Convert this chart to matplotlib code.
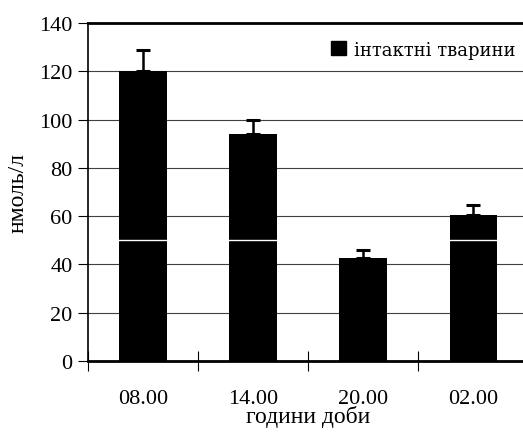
import matplotlib
matplotlib.use("Agg")
import matplotlib.pyplot as plt
import numpy as np
from matplotlib.patches import Patch

categories = ["08.00", "14.00", "20.00", "02.00"]
values = [120, 94, 42.5, 60.5]
errors = [9, 6, 3.5, 4]
legend_label = "інтактні тварини"
yticks = [0, 20, 40, 60, 80, 100, 120, 140]

plt.rcParams['font.family'] = ['Liberation Serif', 'DejaVu Serif']

fig = plt.figure(figsize=(5.23, 4.35), dpi=100)
ax = fig.add_axes([88/523, 1-362/435, (523-88)/523 + 0.01, (362-24)/435])

x = np.arange(len(categories))
ax.bar(x, values, width=0.43, color='black', zorder=3)
ax.errorbar(x, values, yerr=[np.zeros(len(errors)), errors], fmt='none',
            ecolor='black', elinewidth=1.8, capsize=5, capthick=2.2, zorder=3)
ax.axhline(50, color='white', lw=1.0, zorder=3.5)

ax.set_xlim(-0.5, len(categories) - 0.5)
ax.set_ylim(0, 140)
ax.set_yticks(yticks)
ax.set_yticklabels([str(t) for t in yticks], fontsize=16)
ax.yaxis.grid(True, color='#404040', lw=0.8, linestyle='-', zorder=1)
ax.set_axisbelow(True)

ax.set_xticks(np.arange(len(categories) + 1) - 0.5, minor=False)
ax.set_xticklabels([])
ax.tick_params(axis='x', which='major', direction='inout', length=14, width=0.8)
ax.set_xticks(x, minor=True)
ax.set_xticklabels(categories, minor=True, fontsize=16)
ax.tick_params(axis='x', which='minor', length=0, pad=20)
ax.tick_params(axis='y', direction='out', length=7, width=0.8, pad=4)

ax.spines['left'].set_linewidth(1.2)
ax.spines['bottom'].set_linewidth(2.0)
ax.spines['top'].set_linewidth(2.0)
ax.spines['right'].set_visible(False)
for s in ax.spines.values():
    s.set_zorder(5)

ax.set_xlabel("години доби", fontsize=17, labelpad=-2)
ax.set_ylabel("нмоль/л", fontsize=17, labelpad=8)

handle = Patch(facecolor='black', edgecolor='black')
leg = ax.legend([handle], [legend_label], loc='upper right',
                bbox_to_anchor=(1.0, 0.985), frameon=True, fontsize=15,
                handlelength=0.7, handleheight=0.7, handletextpad=0.4,
                borderaxespad=0.2)
leg.get_frame().set_facecolor('white')
leg.get_frame().set_edgecolor('white')
for t in leg.get_texts():
    t.set_family(['DejaVu Serif'])
    t.set_fontsize(13)

fig.savefig("out.png", dpi=100)
